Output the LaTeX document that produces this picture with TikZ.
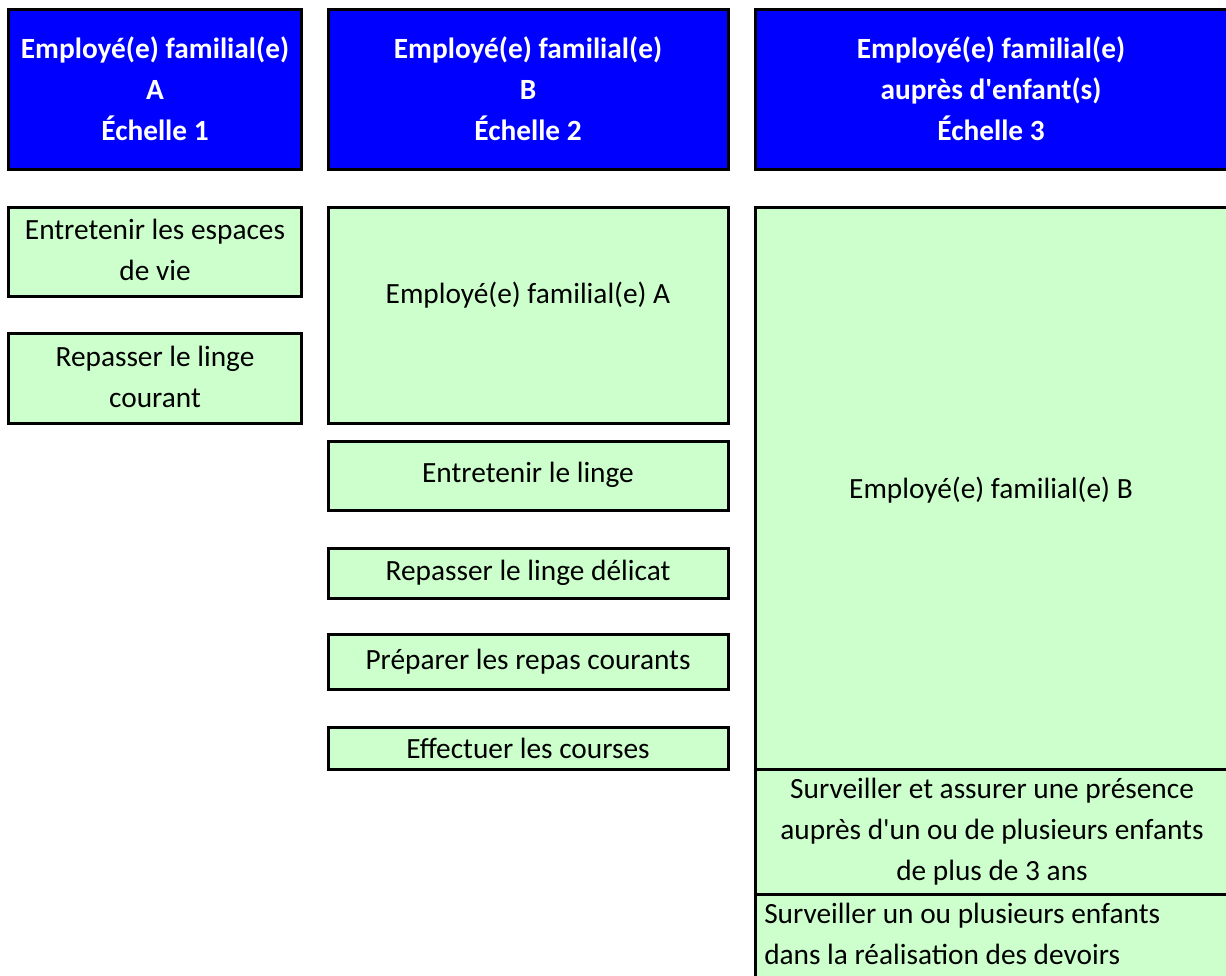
\documentclass[tikz,border=0pt]{standalone}
\usepackage{fontspec}
\setmainfont{Carlito}
\usetikzlibrary{fit}
\definecolor{hdrblue}{HTML}{0000FF}
\definecolor{cellgreen}{HTML}{CCFFCC}
\newcommand{\apos}{\textquotesingle}
\tikzset{
  boxbase/.style={draw=black, line width=2.25pt, inner sep=0pt},
  hdrbox/.style={boxbase, fill=hdrblue},
  cellbox/.style={boxbase, fill=cellgreen},
  hdrtxt/.style={text=white, font=\bfseries\fontsize{22}{30.75}\selectfont, align=center, inner sep=0pt},
  celltxt/.style={text=black, font=\fontsize{22}{30.75}\selectfont, align=center, inner sep=0pt},
  lefttxt/.style={text=black, font=\fontsize{22}{30.75}\selectfont, align=left, inner sep=0pt}
}
\begin{document}
\begin{tikzpicture}[x=0.75pt, y=-0.75pt]
\useasboundingbox (0,0) rectangle (1226,975);
\clip (0,0) rectangle (1226,975);
% headers
\node[hdrbox, fit={(8.5,9.5) (301.5,169.5)}] (hA) {};
\node[hdrbox, fit={(328.5,9.5) (728.5,169.5)}] (hB) {};
\node[hdrbox, fit={(755,9.5) (1240,169.5)}] (hC) {};
\node[hdrtxt] (tA) at (155,89) {Employé(e) familial(e)\\A\\Échelle 1};
\node[hdrtxt] (tB) at (528,89) {Employé(e) familial(e)\\B\\Échelle 2};
\node[hdrtxt] (tC) at (991,89) {Employé(e) familial(e)\\auprès d\apos enfant(s)\\Échelle 3};
% column A
\node[cellbox, fit={(8.5,207.5) (301.5,296)}] (a1) {};
\node[cellbox, fit={(8.5,333) (301.5,423.5)}] (a2) {};
\node[celltxt] (ta1) at (155,250) {Entretenir les espaces\\de vie};
\node[celltxt] (ta2) at (155,377) {Repasser le linge\\courant};
% column B
\node[cellbox, fit={(328.5,207.5) (728.5,423.5)}] (b1) {};
\node[cellbox, fit={(328.5,441.5) (728.5,510.5)}] (b2) {};
\node[cellbox, fit={(328.5,548.5) (728.5,598.5)}] (b3) {};
\node[cellbox, fit={(328.5,634.5) (728.5,689.5)}] (b4) {};
\node[cellbox, fit={(328.5,727.5) (728.5,769.5)}] (b5) {};
\node[celltxt] (tb1) at (528,295) {Employé(e) familial(e) A};
\node[celltxt] (tb2) at (528,475) {Entretenir le linge};
\node[celltxt] (tb3) at (528,573) {Repasser le linge délicat};
\node[celltxt] (tb4) at (528,662) {Préparer les repas courants};
\node[celltxt] (tb5) at (528,748) {Effectuer les courses};
% column C
\node[cellbox, fit={(755,207.5) (1240,769.5)}] (c1) {};
\node[cellbox, fit={(755,769.5) (1240,894)}] (c2) {};
\node[cellbox, fit={(755,894) (1240,995)}] (c3) {};
\node[celltxt] (tc1) at (991,490) {Employé(e) familial(e) B};
\node[celltxt] (tc2) at (992,832) {Surveiller et assurer une présence\\auprès d\apos un ou de plusieurs enfants\\de plus de 3 ans};
\node[lefttxt, anchor=west] (tc3) at (764,934) {Surveiller un ou plusieurs enfants\\dans la réalisation des devoirs};
\end{tikzpicture}
\end{document}
